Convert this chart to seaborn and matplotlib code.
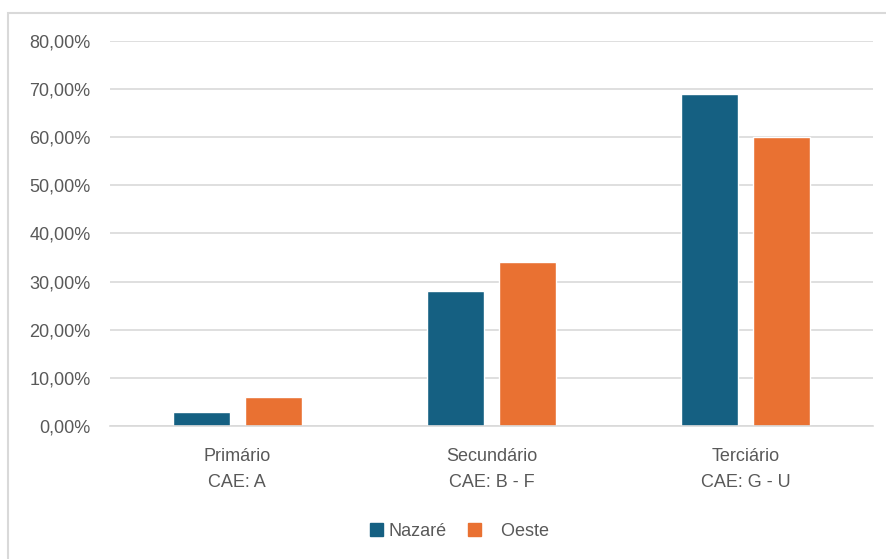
import numpy as np
import pandas as pd
import matplotlib
matplotlib.use("Agg")
import matplotlib.pyplot as plt
import matplotlib.patches as mpatches
from matplotlib.ticker import FuncFormatter, MultipleLocator
import seaborn as sns

# dados
setores = ["Primário\nCAE: A", "Secundário\nCAE: B - F", "Terciário\nCAE: G - U"]
nazare = [0.029, 0.280, 0.690]
oeste = [0.060, 0.341, 0.600]
series = ["Nazaré", "Oeste"]
cores = ["#156082", "#E97132"]

df = pd.DataFrame({
    "setor": setores * 2,
    "valor": nazare + oeste,
    "regiao": [series[0]] * len(setores) + [series[1]] * len(setores),
})

sns.set_style("white")
plt.rcParams["font.family"] = ["Liberation Sans", "DejaVu Sans"]

fig = plt.figure(figsize=(8.87, 5.59), dpi=100)
ax = fig.add_axes([0.124, 0.2379, 0.86, 0.6888])

sns.barplot(
    data=df, x="setor", y="valor", hue="regiao",
    palette=cores, width=0.567, gap=0.21, ax=ax,
    legend=False, saturation=1,
)

ax.set_ylim(0, 0.8)
ax.set_xlim(-0.5, 2.5)
ax.yaxis.set_major_locator(MultipleLocator(0.1))
ax.yaxis.set_major_formatter(FuncFormatter(lambda v, p: f"{v*100:.2f}%".replace(".", ",")))
ax.grid(axis="y", color="#d9d9d9", linewidth=1.2)
ax.set_axisbelow(True)
for s in ["top", "right", "left"]:
    ax.spines[s].set_visible(False)
ax.spines["bottom"].set_color("#d9d9d9")
ax.spines["bottom"].set_linewidth(1.2)
ax.tick_params(axis="both", length=0, colors="#595959", labelsize=13)
ax.tick_params(axis="y", pad=14)
ax.tick_params(axis="x", pad=16)
for t in ax.get_xticklabels():
    t.set_linespacing(1.65)
ax.set_xlabel("")
ax.set_ylabel("")

# legenda
handles = [mpatches.Patch(color=cores[0], label="Nazaré"),
           mpatches.Patch(color=cores[1], label="   Oeste")]
fig.legend(handles=handles, loc="center", bbox_to_anchor=(0.518, 0.05),
           ncol=2, frameon=False, fontsize=13, handlelength=0.7, handleheight=0.7,
           handletextpad=0.3, columnspacing=1.2, labelcolor="#595959")

# moldura do gráfico
fig.patches.append(mpatches.Rectangle((0.009, -0.05), 1.05, 0.9767 + 0.05,
                                      transform=fig.transFigure, fill=False,
                                      edgecolor="#d9d9d9", linewidth=1.5))

fig.savefig("out.png", dpi=100)
